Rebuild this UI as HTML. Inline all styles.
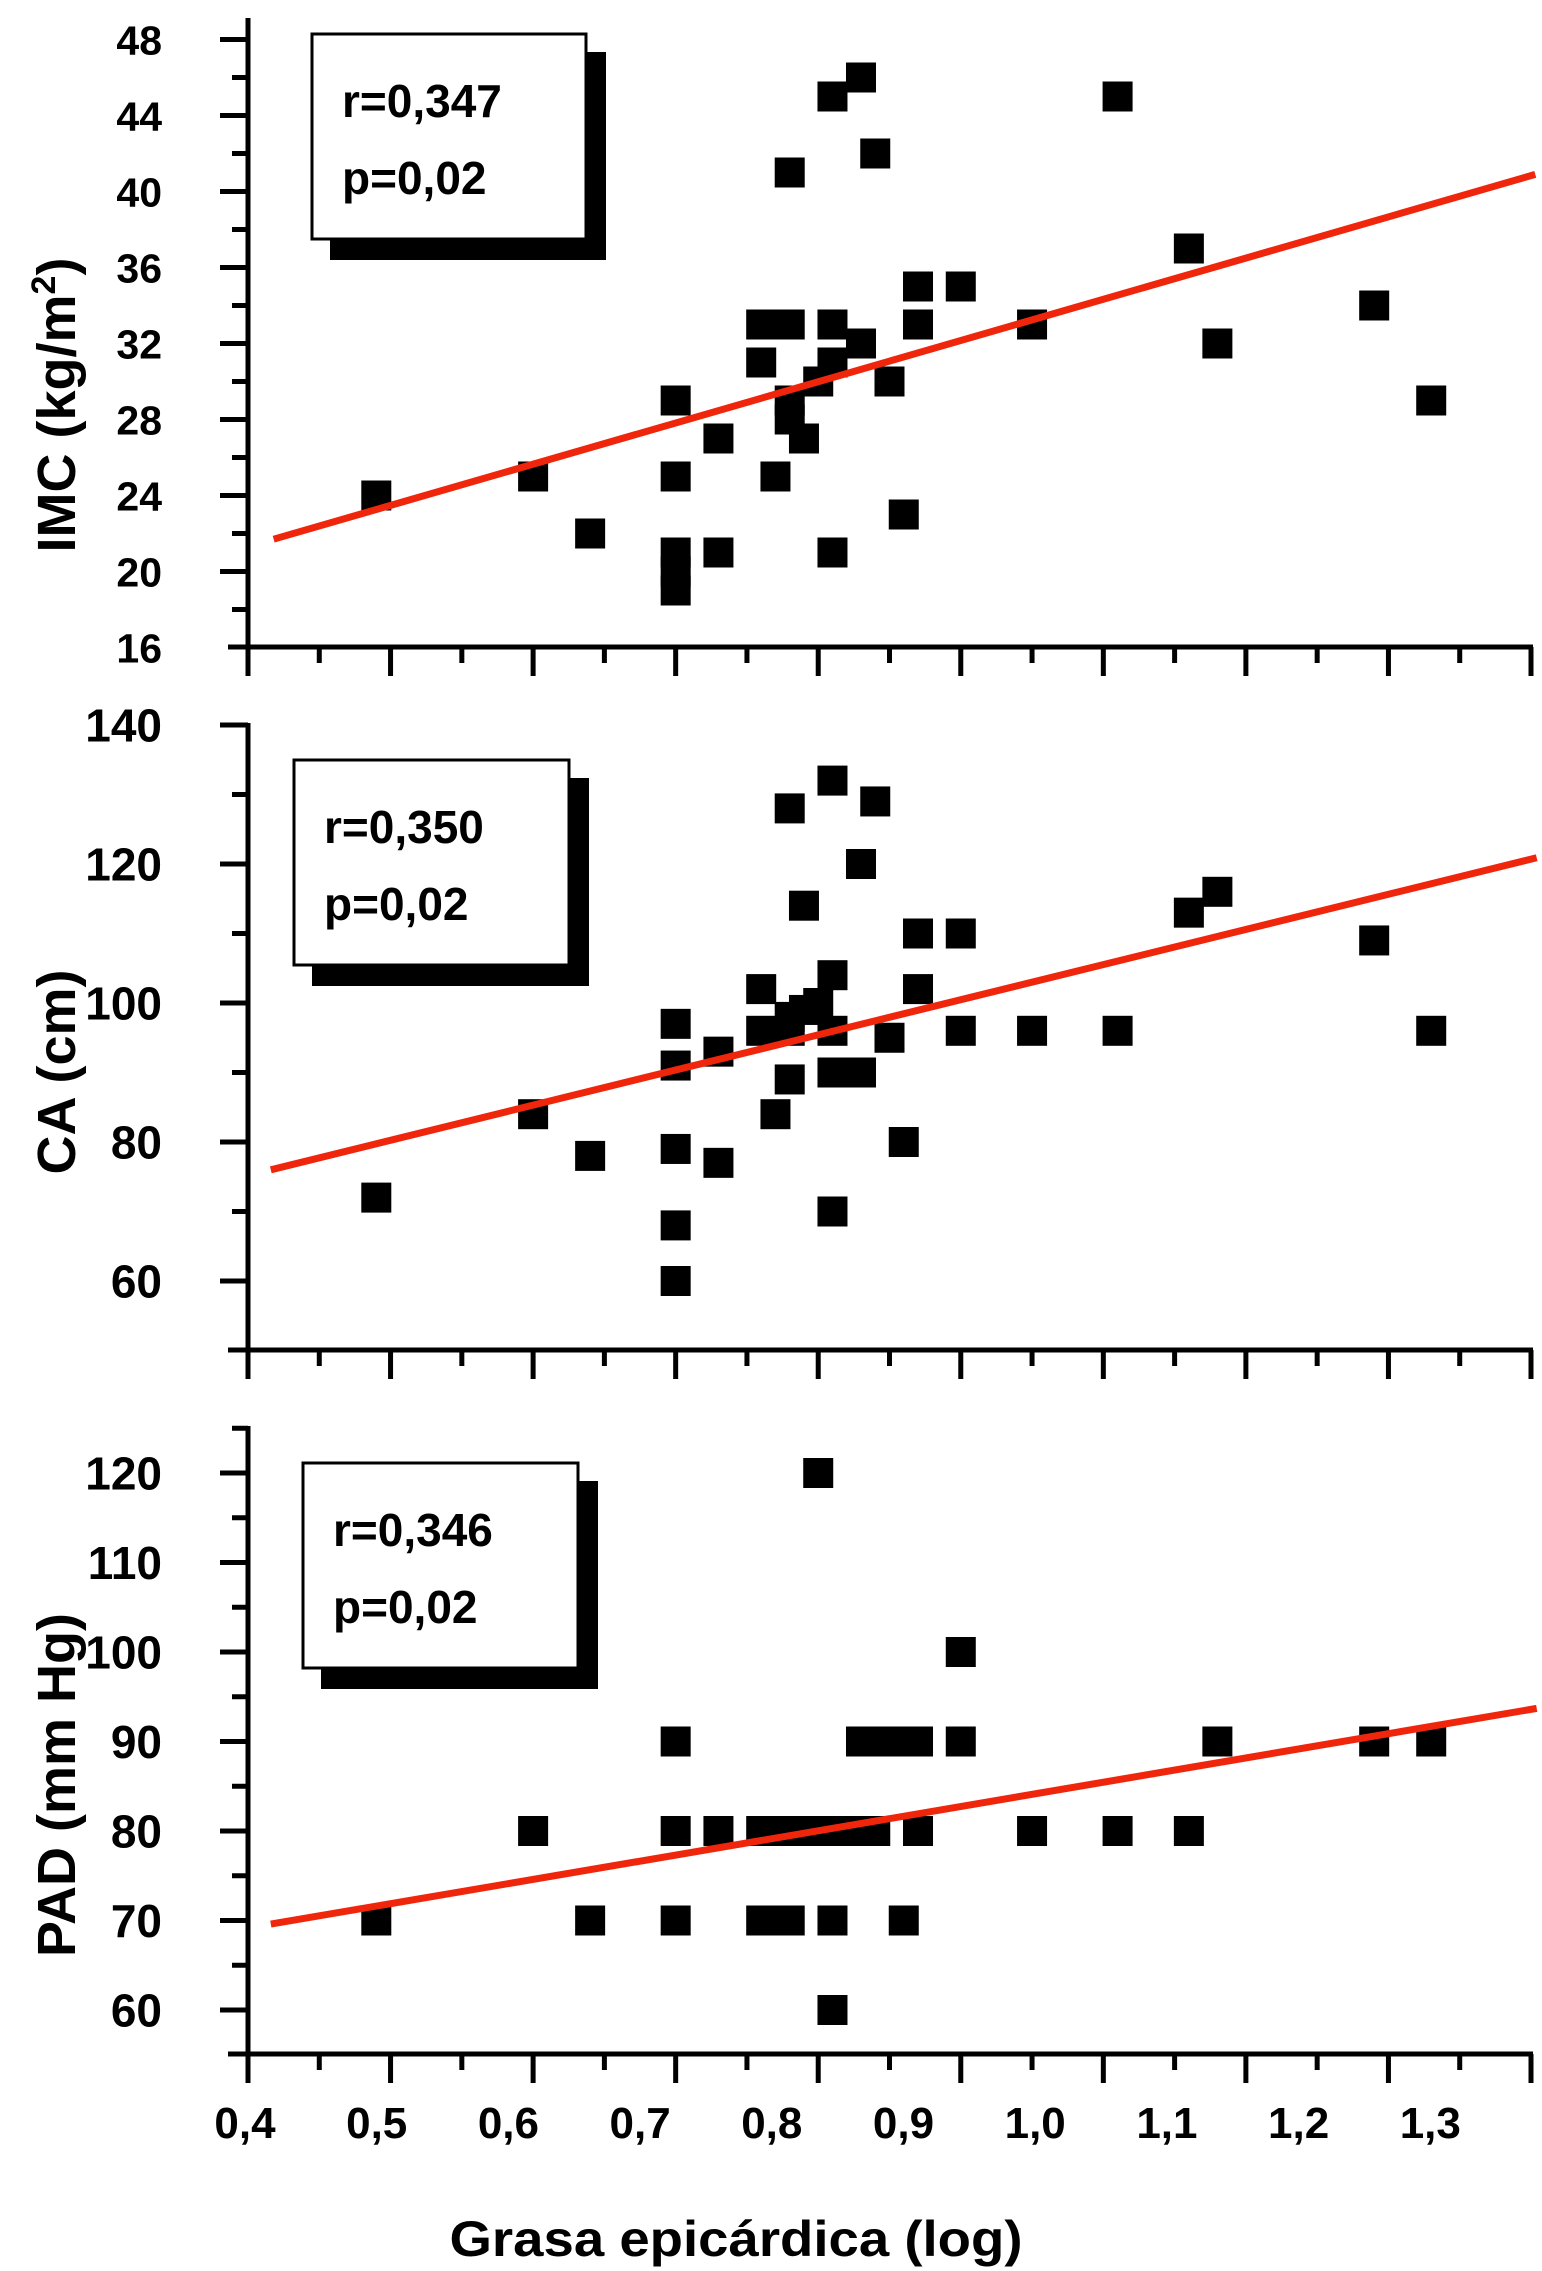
<!DOCTYPE html>
<html><head><meta charset="utf-8">
<style>
html,body{margin:0;padding:0;background:#fff;}
svg{display:block;}
text{font-family:"Liberation Sans",Arial,sans-serif;font-weight:bold;fill:#000;}
</style></head>
<body>
<svg id="fig" width="1542" height="2271" viewBox="0 0 1542 2271" xmlns="http://www.w3.org/2000/svg">
<g id="p1"></g>
<g id="p2"></g>
<g id="p3"></g>
<g id="xlab"></g>
<text x="736" y="2256" text-anchor="middle" font-size="50" textLength="573" lengthAdjust="spacingAndGlyphs">Grasa epicárdica (log)</text>
</svg>
<script>
// shared x axis
const xTickValues = [0.4,0.45,0.5,0.55,0.6,0.65,0.7,0.75,0.8,0.85,0.9,0.95,1.0,1.05,1.1,1.15,1.2,1.25,1.3];
const xTickLabels = ["0,4","0,5","0,6","0,7","0,8","0,9","1,0","1,1","1,2","1,3"];

// Panel 1: IMC
const imcX = [0.49,0.60,0.64,0.70,0.70,0.70,0.70,0.70,0.73,0.73,0.77,0.76,0.76,0.78,0.78,0.78,0.78,0.79,0.80,0.81,0.81,0.83,0.81,0.83,0.84,0.85,0.86,0.81,0.87,0.87,0.90,0.95,1.01,1.06,1.08,1.19,1.23];
const imcY = [24,25,22,29,25,21,20,19,27,21,25,31,33,33,41,29,28,27,30,33,31,32,45,46,42,30,23,21,35,33,35,33,45,37,32,34,29];
const imcLineX = [0.418,1.303];
const imcLineY = [21.7,40.9];
const imcTicks = [48,44,40,36,32,28,24,20,16];

// Panel 2: CA
const caX = [0.49,0.60,0.64,0.70,0.70,0.70,0.70,0.70,0.73,0.73,0.76,0.76,0.77,0.78,0.78,0.81,0.84,0.83,0.79,0.87,0.90,1.06,1.08,1.19,0.81,0.87,0.78,0.80,0.79,0.78,0.81,0.85,0.90,0.95,1.01,1.23,0.81,0.83,0.86,0.81];
const caY = [72,84,78,97,91,79,68,60,93,77,102,96,84,128,89,132,129,120,114,110,110,113,116,109,104,102,98,100,99,96,96,95,96,96,96,96,90,90,80,70];
const caLineX = [0.416,1.304];
const caLineY = [76,120.9];
const caTicks = [140,120,100,80,60];

// Panel 3: PAD
const padX = [0.49,0.60,0.64,0.70,0.70,0.70,0.73,0.76,0.78,0.80,0.82,0.84,0.87,0.95,1.01,1.06,0.76,0.78,0.81,0.86,0.81,0.80,0.90,0.83,0.85,0.87,0.90,1.08,1.19,1.23];
const padY = [70,80,70,90,80,70,80,80,80,80,80,80,80,80,80,80,70,70,70,70,60,120,100,90,90,90,90,90,90,90];
const padLineX = [0.416,1.304];
const padLineY = [69.6,93.7];
const padTicks = [120,110,100,90,80,70,60];

const NS = "http://www.w3.org/2000/svg";
function mk(tag, attrs, parent){
  const e = document.createElementNS(NS, tag);
  for (const k in attrs) e.setAttribute(k, attrs[k]);
  parent.appendChild(e);
  return e;
}
const X0 = 248, X1 = 1531;
function xs(v){ return X0 + (v - 0.4) / 0.9 * (X1 - X0); }

function panel(gid, cfg){
  const g = document.getElementById(gid);
  const ys = v => cfg.yTop + (cfg.vTop - v) * cfg.ppu;
  // y axis
  const ya = mk('line',{x1:X0,y1:cfg.axisTop,x2:X0,y2:cfg.axisBottom,stroke:'#000','stroke-width':5},g);
  
  
  // y ticks (major + minor)
  for (let v = cfg.vMin; v <= cfg.vMaxTick + 1e-9; v += cfg.minorStep){
    const major = Math.abs((v - cfg.majorBase) % cfg.majorStep) < 1e-6 || Math.abs(Math.abs((v - cfg.majorBase) % cfg.majorStep) - cfg.majorStep) < 1e-6;
    const t = mk('line',{x1:major?220:232,y1:ys(v),x2:X0,y2:ys(v),stroke:'#000','stroke-width':5},g);
    
    
  }
  cfg.ticks.forEach(v => {
    const t = mk('text',{x:162,y:ys(v)+cfg.fs*0.36,'text-anchor':'end','font-size':cfg.fs},g);
    t.textContent = String(v);
    
    
  });
  // x axis
  const xa = mk('line',{x1:228,y1:cfg.axisBottom,x2:X1+2,y2:cfg.axisBottom,stroke:'#000','stroke-width':5},g);
  
  
  xTickValues.forEach((v,i) => {
    const major = i % 2 === 0;
    const t = mk('line',{x1:xs(v),y1:cfg.axisBottom,x2:xs(v),y2:cfg.axisBottom + (major?29:16),stroke:'#000','stroke-width':5},g);
    
    
  });
  // legend box
  const b = cfg.box;
  const sh = mk('rect',{x:b[0]+18,y:b[1]+18,width:b[2]-b[0]+2,height:b[3]-b[1]+3,fill:'#000'},g);
  
  
  const bx = mk('rect',{x:b[0],y:b[1],width:b[2]-b[0],height:b[3]-b[1],fill:'#fff',stroke:'#000','stroke-width':3},g);
  
  
  const r = mk('text',{x:b[0]+30,y:b[1]+83,'font-size':46},g);
  r.textContent = cfg.rText;
  
  
  const p = mk('text',{x:b[0]+30,y:b[1]+160,'font-size':46},g);
  p.textContent = 'p=0,02';
  
  
  // points
  cfg.xs.forEach((xv,i) => {
    const s = mk('rect',{x:xs(xv)-15,y:ys(cfg.ys[i])-15,width:30,height:30,fill:'#000'},g);
    
    
  });
  // regression line
  const l = mk('line',{x1:xs(cfg.lx[0]),y1:ys(cfg.ly[0]),x2:xs(cfg.lx[1]),y2:ys(cfg.ly[1]),stroke:'#f0260c','stroke-width':7},g);
  
  
  // y title
  const tt = mk('text',{x:0,y:0,'font-size':54,'text-anchor':'middle',transform:`translate(75 ${cfg.titleY}) rotate(-90)`},g);
  tt.innerHTML = cfg.title;
  
  
}

panel('p1',{yTop:39.5,vTop:48,ppu:19,axisTop:18,axisBottom:647,vMin:18,vMaxTick:48,minorStep:2,majorStep:4,majorBase:16,
  ticks:imcTicks,fs:41,box:[312,34,586,239],rText:'r=0,347',xs:imcX,ys:imcY,lx:imcLineX,ly:imcLineY,
  title:'IMC (kg/m<tspan dy="-20" font-size="34">2</tspan><tspan dy="20">)</tspan>',titleY:405});
panel('p2',{yTop:725,vTop:140,ppu:6.95,axisTop:723,axisBottom:1350,vMin:60,vMaxTick:140,minorStep:10,majorStep:20,majorBase:60,
  ticks:caTicks,fs:46,box:[294,760,569,965],rText:'r=0,350',xs:caX,ys:caY,lx:caLineX,ly:caLineY,
  title:'CA (cm)',titleY:1072});
panel('p3',{yTop:1473,vTop:120,ppu:8.95,axisTop:1426,axisBottom:2054,vMin:60,vMaxTick:125,minorStep:5,majorStep:10,majorBase:60,
  ticks:padTicks,fs:46,box:[303,1463,578,1668],rText:'r=0,346',xs:padX,ys:padY,lx:padLineX,ly:padLineY,
  title:'PAD (mm Hg)',titleY:1785});

// x tick labels (as placed in the original figure)
const xl = document.getElementById('xlab');
xTickLabels.forEach((lab,i) => {
  const t = mk('text',{x:245 + i*131.7,y:2138,'text-anchor':'middle','font-size':44},xl);
  t.textContent = lab;
  
  
});
</script>
</body></html>
